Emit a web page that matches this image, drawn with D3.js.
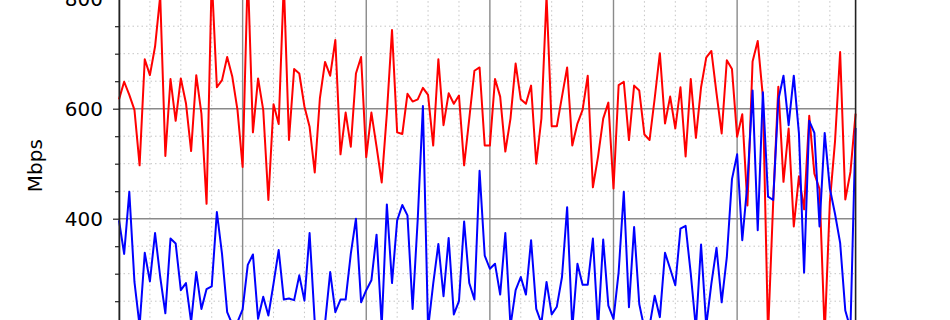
<!DOCTYPE html>
<html>
<head>
<meta charset="utf-8">
<script src="https://cdn.jsdelivr.net/npm/d3@7"></script>
<style>
body { margin: 0; background: #fff; }
svg { display: block; font-family: "DejaVu Sans", sans-serif; }
</style>
</head>
<body>
<div id="chart"></div>
<script>
// hourly throughput, 6 days (index = hour)
var redMbps = [617,649,625,598,497,690,661,713,805,514,654,578,655,610,523,661,591,427,840,639,652,694,658,598,
	494,850,557,655,598,434,608,572,830,543,672,664,604,567,484,619,685,660,725,517,593,531,664,694,
	512,593,531,466,591,743,557,554,627,613,617,638,625,533,690,570,628,609,624,497,582,669,675,533,
	533,654,622,522,582,682,617,609,642,500,582,805,568,568,622,675,533,573,598,660,457,513,582,611,
	455,643,649,543,642,633,553,543,619,701,573,622,564,639,513,654,547,639,693,705,628,555,688,672,
	549,590,424,686,723,622,190,430,640,467,564,386,477,417,587,482,454,190,430,540,703,435,485,591];

var blueMbps = [397,336,449,285,205,338,286,374,294,228,364,355,270,283,212,303,236,272,277,412,336,230,208,212,
	235,316,335,218,258,224,282,343,253,255,252,297,251,374,212,200,210,303,230,253,253,336,400,248,
	270,288,371,205,426,283,397,425,406,236,400,605,200,282,354,259,365,226,250,395,283,253,487,333,
	309,318,262,374,205,270,294,262,361,236,210,285,226,240,294,421,200,318,280,280,364,200,362,242,
	218,303,449,239,385,245,200,205,260,221,338,309,279,382,387,300,200,353,205,282,347,248,330,472,
	517,361,464,633,379,630,440,434,616,660,570,660,555,302,578,556,386,556,455,409,356,233,200,565];

var yMajor = [0, 200, 400, 600, 800, 1000];
var yLabels = [400, 600, 800];
var yMinor = [50,100,150,250,300,350,450,500,550,650,700,750,850,900,950];
var xMajor = [0, 24, 48, 72, 96, 120];
var xMinor = [6,12,18,30,36,42,54,60,66,78,84,90,102,108,114,126,132,138];

var width = 950, height = 320;

var svg = d3.select("#chart").append("svg")
	.attr("width", width)
	.attr("height", height);

var x = d3.scaleLinear()
	.domain([0, redMbps.length - 1])
	.range([119, 855.6]);

var y = d3.scaleLinear()
	.domain([0, 1000])
	.range([438.7, -111.3]);

var grid = svg.append("g");

// minor dotted grid
grid.selectAll(".hminor").data(yMinor).enter()
	.append("line")
	.attr("x1", x(0)).attr("x2", x(redMbps.length - 1))
	.attr("y1", d => y(d)).attr("y2", d => y(d))
	.style("stroke", "#c4c4c4")
	.style("stroke-width", 1)
	.style("stroke-dasharray", "1.5,3");

grid.selectAll(".vminor").data(xMinor).enter()
	.append("line")
	.attr("x1", d => x(d)).attr("x2", d => x(d))
	.attr("y1", y(1000)).attr("y2", y(0))
	.style("stroke", "#c4c4c4")
	.style("stroke-width", 1)
	.style("stroke-dasharray", "1.5,3");

// major solid grid
grid.selectAll(".hmajor").data(yMajor).enter()
	.append("line")
	.attr("x1", x(0)).attr("x2", x(redMbps.length - 1))
	.attr("y1", d => y(d)).attr("y2", d => y(d))
	.style("stroke", "#8a8a8a")
	.style("stroke-width", 1.4);

grid.selectAll(".vmajor").data(xMajor).enter()
	.append("line")
	.attr("x1", d => x(d)).attr("x2", d => x(d))
	.attr("y1", y(1000)).attr("y2", y(0))
	.style("stroke", "#8a8a8a")
	.style("stroke-width", 1.4);

var line = d3.line()
	.x((d, i) => x(i))
	.y(d => y(d));

svg.append("path")
	.datum(redMbps)
	.attr("d", line)
	.style("fill", "none")
	.style("stroke", "#ff0000")
	.style("stroke-width", 2)
	.style("stroke-linejoin", "round");

svg.append("path")
	.datum(blueMbps)
	.attr("d", line)
	.style("fill", "none")
	.style("stroke", "#0000ff")
	.style("stroke-width", 2)
	.style("stroke-linejoin", "round");

// y axis: minor ticks, then major ticks with labels
svg.append("g")
	.attr("transform", "translate(" + x(0) + ",0)")
	.call(d3.axisLeft(y).tickValues(yMinor).tickSize(4).tickSizeOuter(0).tickFormat(""))
	.call(g => g.select(".domain").remove())
	.selectAll("line").style("stroke", "#222").style("stroke-width", 1.2);

var yAxis = svg.append("g")
	.attr("transform", "translate(" + x(0) + ",0)")
	.call(d3.axisLeft(y).tickValues(yLabels).tickSize(6).tickSizeOuter(0).tickPadding(10));

yAxis.select(".domain").style("stroke", "#222").style("stroke-width", 1.6);
yAxis.selectAll("line").style("stroke", "#222").style("stroke-width", 1.2);
yAxis.selectAll("text")
	.style("font-size", "20px")
	.style("fill", "#000")
	.style("font-family", "DejaVu Sans");

// right spine
svg.append("line")
	.attr("x1", x(redMbps.length - 1)).attr("x2", x(redMbps.length - 1))
	.attr("y1", y(1000)).attr("y2", y(0))
	.style("stroke", "#222")
	.style("stroke-width", 1.6);

svg.append("text")
	.attr("transform", "translate(35," + ((y(0) + y(1000)) / 2 + 2) + ") rotate(-90)")
	.attr("text-anchor", "middle")
	.attr("dominant-baseline", "central")
	.style("font-size", "20px")
	.style("fill", "#000")
	.text("Mbps");
</script>
</body>
</html>
